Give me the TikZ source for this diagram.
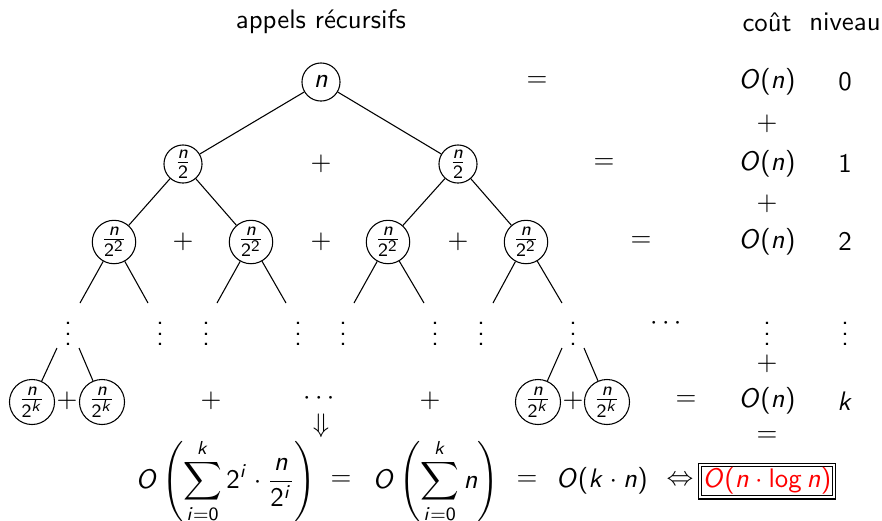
\documentclass[tikz,border=0pt]{standalone}
\usepackage{amsmath,amssymb}
\usepackage{tikz}
\usetikzlibrary{positioning}
\renewcommand{\familydefault}{\sfdefault}
% maths en sans serif, comme dans beamer
\SetSymbolFont{operators}{normal}{OT1}{cmss}{m}{n}
\SetSymbolFont{letters}{normal}{OT1}{cmss}{m}{sl}
\DeclareMathSizes{10}{10}{7}{6}

\tikzset{
	appel/.style={draw, circle, inner sep=0.5pt, minimum size=14.2pt},
	appel2/.style={appel, minimum size=16pt},
	feuille/.style={draw, circle, inner sep=0.3pt, minimum size=16.8pt},
}

\begin{document}
\begin{tikzpicture}[x=0.373pt, y=-0.373pt]
	\useasboundingbox (0,0) rectangle (882,520);
	
	% Titres des colonnes
	\node (titre) at (321,22) {appels récursifs};
	\node (cout) at (767,22) {coût};
	\node (niveau) at (845,22) {niveau};
	
	% --- NIVEAU 0 ---
	\node[appel] (n0) at (321,82) {$n$};
	\node (eg0) at (537,82) {$=$};
	\node (c0) at (767,82) {$O(n)$};
	\node (l0) at (845,82) {$0$};
	\node (p0) at (767,124) {$+$};
	
	% --- NIVEAU 1 ---
	\node[appel] (n1a) at (183,164) {$\frac{n}{2}$};
	\node (s1) at (321,164) {$+$};
	\node[appel] (n1b) at (458,164) {$\frac{n}{2}$};
	\node (eg1) at (604,164) {$=$};
	\node (c1) at (767,164) {$O(n)$};
	\node (l1) at (845,164) {$1$};
	\node (p1) at (767,204) {$+$};
	\draw (n0) -- (n1a);
	\draw (n0) -- (n1b);
	
	% --- NIVEAU 2 ---
	\node[appel2] (n2a) at (114,242) {$\frac{n}{2^2}$};
	\node (s2a) at (183,242) {$+$};
	\node[appel2] (n2b) at (251,242) {$\frac{n}{2^2}$};
	\node (s2b) at (321,242) {$+$};
	\node[appel2] (n2c) at (388,242) {$\frac{n}{2^2}$};
	\node (s2c) at (458,242) {$+$};
	\node[appel2] (n2d) at (526,242) {$\frac{n}{2^2}$};
	\node (eg2) at (641,242) {$=$};
	\node (c2) at (767,242) {$O(n)$};
	\node (l2) at (845,242) {$2$};
	\draw (n1a) -- (n2a);
	\draw (n1a) -- (n2b);
	\draw (n1b) -- (n2c);
	\draw (n1b) -- (n2d);
	
	% branches pendantes sous le niveau 2
	\coordinate (b1) at (80,303);
	\coordinate (b2) at (148,303);
	\coordinate (b3) at (217,303);
	\coordinate (b4) at (286,303);
	\coordinate (b5) at (354,303);
	\coordinate (b6) at (424,303);
	\coordinate (b7) at (493,303);
	\coordinate (b8) at (562,303);
	\draw (n2a) -- (b1);
	\draw (n2a) -- (b2);
	\draw (n2b) -- (b3);
	\draw (n2b) -- (b4);
	\draw (n2c) -- (b5);
	\draw (n2c) -- (b6);
	\draw (n2d) -- (b7);
	\draw (n2d) -- (b8);
	
	% --- NIVEAUX INTERMEDIAIRES ---
	\node (v1) at (68,326) {$\vdots$};
	\node (v2) at (160,326) {$\vdots$};
	\node (v3) at (206,326) {$\vdots$};
	\node (v4) at (298,326) {$\vdots$};
	\node (v5) at (343,326) {$\vdots$};
	\node (v6) at (435,326) {$\vdots$};
	\node (v7) at (481,326) {$\vdots$};
	\node (v8) at (573,326) {$\vdots$};
	\node (hd) at (668,324) {$\cdots$};
	\node (vc) at (767,326) {$\vdots$};
	\node (vl) at (845,326) {$\vdots$};
	\node (p2) at (767,364) {$+$};
	
	% --- NIVEAU k ---
	\coordinate (h1) at (57,348);
	\coordinate (h2) at (79,348);
	\coordinate (h3) at (562,348);
	\coordinate (h4) at (584,348);
	\node[feuille] (fa) at (32,402) {$\frac{n}{2^k}$};
	\node (sfa) at (67,401) {$+$};
	\node[feuille] (fb) at (102,402) {$\frac{n}{2^k}$};
	\node (sk1) at (211,401) {$+$};
	\node (pts) at (321,399) {$\cdots$};
	\node (imp) at (321,426) {$\Downarrow$};
	\node (sk2) at (430,401) {$+$};
	\node[feuille] (fc) at (538,402) {$\frac{n}{2^k}$};
	\node (sfc) at (573,401) {$+$};
	\node[feuille] (fd) at (607,402) {$\frac{n}{2^k}$};
	\node (egk) at (686,401) {$=$};
	\node (ck) at (767,401) {$O(n)$};
	\node (lk) at (845,401) {$k$};
	\node (egc) at (767,437) {$=$};
	\draw (h1) -- (fa);
	\draw (h2) -- (fb);
	\draw (h3) -- (fc);
	\draw (h4) -- (fd);
	
	% Somme totale
	\node (r1) at (226,481) {$\displaystyle O\left(\sum_{i=0}^{k} 2^i\cdot\frac{n}{2^i}\right)$};
	\node (eq1) at (341,481) {$=$};
	\node (r2) at (436,481) {$\displaystyle O\left(\sum_{i=0}^{k} n\right)$};
	\node (eq2) at (527,481) {$=$};
	\node (r3) at (602,481) {$O(k\cdot n)$};
	\node (eqv) at (680,481) {$\Leftrightarrow$};
	\node[draw, double, double distance=1pt, text=red, inner sep=1pt] (res) at (767,481) {$O(n\cdot\log n)$};
	
\end{tikzpicture}
\end{document}
